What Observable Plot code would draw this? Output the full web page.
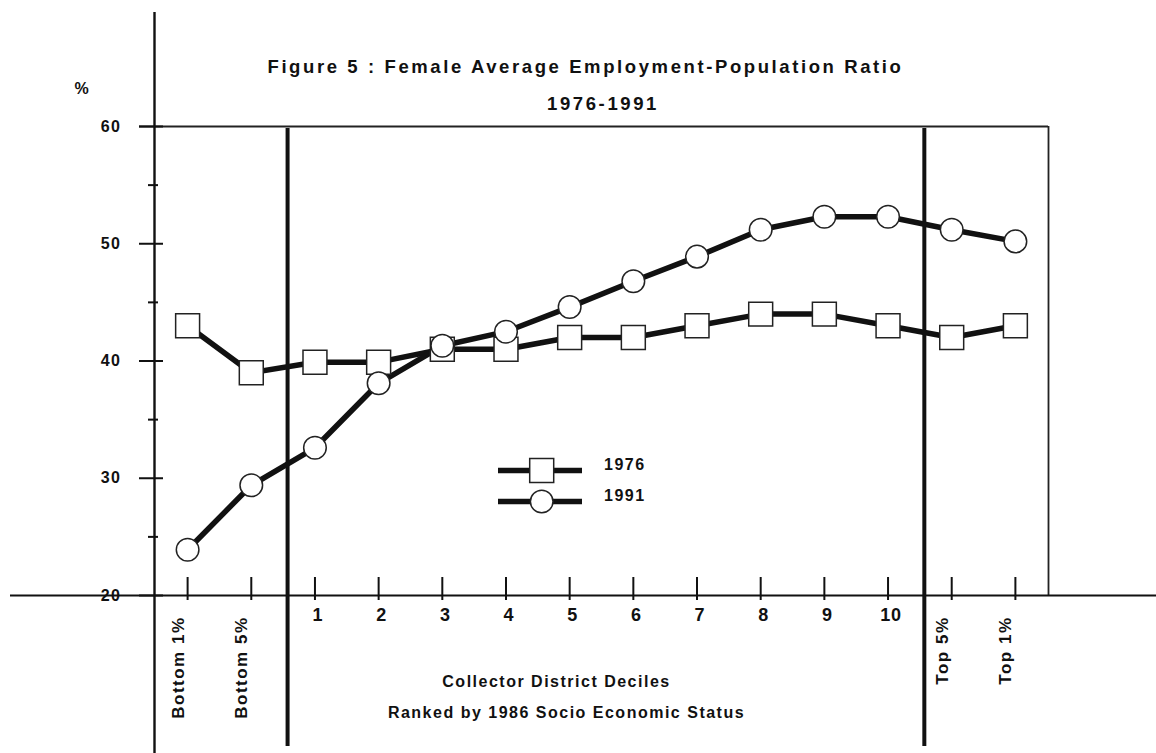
<!DOCTYPE html>
<html><head><meta charset="utf-8">
<script src="https://cdn.jsdelivr.net/npm/d3@7"></script>
<script src="https://cdn.jsdelivr.net/npm/@observablehq/plot@0.6"></script>
<style>
html,body{margin:0;padding:0;background:#fff;}
#wrap{position:relative;width:1156px;height:753px;}
svg text{font-family:"Liberation Sans",Arial,sans-serif;font-weight:bold;letter-spacing:1.5px;fill:#111;}
#legend{position:absolute;left:0;top:0;pointer-events:none;}
</style></head><body><div id="wrap"></div>
<script>
const categories = ["Bottom 1%","Bottom 5%","1","2","3","4","5","6","7","8","9","10","Top 5%","Top 1%"];
const emp1976 = [43.0, 39.0, 39.9, 39.9, 41.0, 41.0, 42.0, 42.0, 43.0, 44.0, 44.0, 43.0, 42.0, 43.0];
const emp1991 = [23.9, 29.4, 32.6, 38.1, 41.3, 42.5, 44.6, 46.8, 48.9, 51.2, 52.3, 52.3, 51.2, 50.2];
const seriesNames = ["1976", "1991"];
const yTicks = [20, 30, 40, 50, 60];
const yMinorTicks = [25, 35, 45, 55];
const dividers = [1.57, 11.57];
const titleLines = ["Figure 5 : Female Average Employment-Population Ratio", "1976-1991"];
const xTitleLines = ["Collector District Deciles", "Ranked by 1986 Socio Economic Status"];
const yLabel = "%";

const idx = categories.map((_, i) => i);
const rows1976 = idx.map(i => ({i, v: emp1976[i]}));
const rows1991 = idx.map(i => ({i, v: emp1991[i]}));
const numericIdx = idx.filter(i => !isNaN(+categories[i]));
const rotatedIdx = idx.filter(i => isNaN(+categories[i]));
const X0 = -0.52, X1 = categories.length - 1 + 0.52;
const ink = "#111";

const chart = Plot.plot({
  width: 1156, height: 753,
  marginLeft: 154, marginRight: 108, marginTop: 126, marginBottom: 158,
  x: {type: "linear", domain: [X0, X1], axis: null},
  y: {domain: [20, 60], axis: null},
  style: {background: "#fff", color: ink, fontSize: "16px", fontFamily: "Liberation Sans, Arial, sans-serif"},
  marks: [
    Plot.ruleY([60], {stroke: "#222", strokeWidth: 1.8, insetLeft: -15}),
    Plot.ruleX([X1], {stroke: "#222", strokeWidth: 1.8}),
    Plot.ruleY([20], {stroke: ink, strokeWidth: 2.2, insetLeft: -144, insetRight: -108}),
    Plot.ruleX([X0], {stroke: ink, strokeWidth: 2.4, insetTop: -114, insetBottom: -158}),
    Plot.ruleY(yTicks, {stroke: ink, strokeWidth: 2, insetLeft: -15, insetRight: 885}),
    Plot.ruleY(yMinorTicks, {stroke: ink, strokeWidth: 2, insetLeft: -6, insetRight: 890}),
    Plot.ruleX(idx, {x: d => d, stroke: ink, strokeWidth: 2, insetTop: 451, insetBottom: -5}),
    Plot.ruleX(dividers, {stroke: ink, strokeWidth: 4, insetTop: 2, insetBottom: -151}),
    Plot.line(rows1976, {x: "i", y: "v", stroke: ink, strokeWidth: 5.5}),
    Plot.line(rows1991, {x: "i", y: "v", stroke: ink, strokeWidth: 5.5}),
    Plot.dot(rows1976, {x: "i", y: "v", symbol: "square", r: 13.5, fill: "white", stroke: "#222", strokeWidth: 1.5}),
    Plot.dot(rows1991, {x: "i", y: "v", symbol: "circle", r: 11.3, fill: "white", stroke: "#222", strokeWidth: 1.5}),
    Plot.text(yTicks, {y: d => d, text: d => String(d), frameAnchor: "left", dx: -33, textAnchor: "end", fontSize: 16}),
    Plot.text([yLabel], {frameAnchor: "top-left", dx: -80, dy: -44, fontSize: 16}),
    Plot.text(numericIdx, {x: d => d, text: d => categories[d], frameAnchor: "bottom", dx: 3, dy: 25, fontSize: 18}),
    Plot.text(rotatedIdx, {x: d => d, text: d => categories[d], frameAnchor: "bottom", rotate: -90, textAnchor: "end", dx: -4, dy: 21, fontSize: 17}),
    Plot.text([titleLines[0]], {frameAnchor: "top", dx: -16, dy: -67, fontSize: 18.5}),
    Plot.text([titleLines[1]], {frameAnchor: "top", dx: 1.5, dy: -29.5, fontSize: 18.5}),
    Plot.text([xTitleLines[0]], {frameAnchor: "bottom", dx: -45, dy: 91, fontSize: 16}),
    Plot.text([xTitleLines[1]], {frameAnchor: "bottom", dx: -35, dy: 122.6, fontSize: 16})
  ]
});
const wrap = document.getElementById("wrap");
wrap.appendChild(chart);
d3.select(chart).selectAll("text").filter(function() { return titleLines.includes(this.textContent); })
  .style("letter-spacing", "2.6px");
d3.select(chart).selectAll("text").filter(function() { return /^\d+$/.test(this.textContent) && +this.textContent <= 10; })
  .style("letter-spacing", "0.8px");

// Legend overlay
const leg = d3.select(wrap).append("svg").attr("id", "legend").attr("width", 1156).attr("height", 753);
seriesNames.forEach((name, k) => {
  const cy = k === 0 ? 470.5 : 501.5;
  const g = leg.append("g");
  g.append("line").attr("x1", 498).attr("x2", 582).attr("y1", cy).attr("y2", cy)
    .attr("stroke", ink).attr("stroke-width", 5.5);
  if (k === 0) {
    g.append("rect").attr("x", 541.7 - 12).attr("y", cy - 12).attr("width", 24).attr("height", 24)
      .attr("fill", "white").attr("stroke", "#222").attr("stroke-width", 1.5);
  } else {
    g.append("circle").attr("cx", 541.7).attr("cy", cy).attr("r", 11.3)
      .attr("fill", "white").attr("stroke", "#222").attr("stroke-width", 1.5);
  }
  g.append("text").attr("x", 604).attr("y", cy - 6).attr("dy", "0.32em")
    .attr("font-size", 16).text(name);
});
</script></body></html>
